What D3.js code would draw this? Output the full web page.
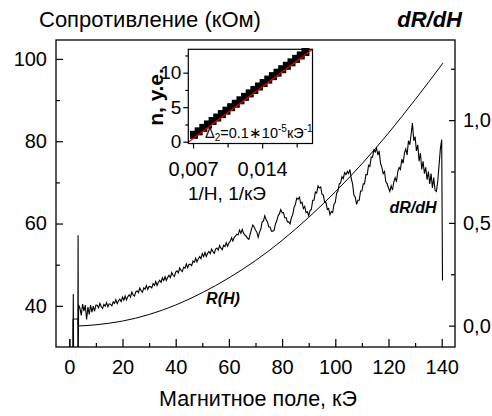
<!DOCTYPE html>
<html>
<head>
<meta charset="utf-8">
<script src="https://cdn.jsdelivr.net/npm/d3@7"></script>
<style>
  body { margin: 0; background: #fff; }
  svg text { font-family: "Liberation Sans", Arial, sans-serif; fill: #000; }
</style>
</head>
<body>
<svg id="chart" width="492" height="416"></svg>
<script>
// main plot ticks
var fieldTicks = [0, 20, 40, 60, 80, 100, 120, 140];
var fieldMinor = [10, 30, 50, 70, 90, 110, 130];
var resTicks = [40, 60, 80, 100];
var resMinor = [50, 70, 90];
var derivTicks = [0, 0.5, 1.0];
var derivMinor = [0.25, 0.75, 1.25];

// R(H): step at the start, then smooth part
var rHeadH = [1.4, 1.4, 3.3, 3.3];
var rHeadR = [29.0, 36.8, 36.8, 35.1];
var rFieldH = [3.3, 10, 20, 30, 40, 50, 60, 70, 80, 90, 100, 110, 120, 130, 140.5];
var rValues = [35.1, 35.4, 36.3, 37.9, 40.2, 43.2, 46.8, 51.0, 55.9, 61.5, 67.7, 74.5, 82.0, 90.1, 99.0];

// dR/dH: spikes before the sweep, then readings every 0.5 kOe from 3.5 kOe, then the drop
var dHeadH = [0.2, 0.3, 1.4, 1.5, 1.6, 3.2, 3.3, 3.4];
var dHeadV = [-0.065, -0.11, -0.11, 0.154, -0.11, -0.11, 0.44, -0.11];
var dStart = 3.5, dStep = 0.5;
var dValues = [
  0.10, 0.085, 0.05, 0.105, 0.07, 0.10, 0.03, 0.09, 0.055, 0.10, 0.065, 0.095, 0.07, 0.10,
  0.099, 0.0865, 0.108, 0.093, 0.084, 0.1035, 0.095, 0.112, 0.092, 0.106,
  0.104, 0.096, 0.116, 0.108, 0.126, 0.107, 0.121, 0.129, 0.117, 0.139,
  0.124, 0.144, 0.125, 0.141, 0.150, 0.139, 0.163, 0.150, 0.144, 0.165,
  0.170, 0.160, 0.183, 0.170, 0.163, 0.184, 0.177, 0.195, 0.176, 0.191,
  0.190, 0.183, 0.204, 0.196, 0.215, 0.196, 0.211, 0.221, 0.210, 0.233,
  0.219, 0.238, 0.220, 0.235, 0.245, 0.234, 0.258, 0.245, 0.239, 0.261,
  0.267, 0.257, 0.281, 0.269, 0.263, 0.285, 0.280, 0.300, 0.282, 0.298,
  0.298, 0.292, 0.314, 0.308, 0.328, 0.310, 0.326, 0.336, 0.326, 0.350,
  0.336, 0.356, 0.337, 0.352, 0.361, 0.350, 0.373, 0.360, 0.352, 0.373,
  0.378, 0.367, 0.390, 0.377, 0.370, 0.391, 0.385, 0.404, 0.386, 0.402,
  0.41, 0.428, 0.412, 0.43, 0.437, 0.445, 0.442, 0.465, 0.45, 0.468,
  0.45, 0.44, 0.435, 0.425, 0.42, 0.445, 0.47, 0.49, 0.48, 0.465,
  0.455, 0.43, 0.455, 0.47, 0.505, 0.51, 0.535, 0.515, 0.505, 0.48,
  0.48, 0.46, 0.46, 0.465, 0.495, 0.51, 0.535, 0.545, 0.565, 0.55,
  0.55, 0.525, 0.525, 0.505, 0.505, 0.495, 0.525, 0.54, 0.575, 0.59,
  0.62, 0.615, 0.625, 0.595, 0.60, 0.57, 0.58, 0.55, 0.555, 0.535,
  0.56, 0.565, 0.61, 0.61, 0.65, 0.645, 0.68, 0.67, 0.675, 0.64,
  0.635, 0.60, 0.60, 0.565, 0.57, 0.54, 0.555, 0.55, 0.59, 0.60,
  0.645, 0.655, 0.69, 0.695, 0.725, 0.715, 0.745, 0.735, 0.75, 0.74,
  0.76, 0.715, 0.69, 0.635, 0.625, 0.59, 0.61, 0.61, 0.655, 0.655,
  0.69, 0.69, 0.735, 0.735, 0.78, 0.775, 0.82, 0.82, 0.855, 0.845,
  0.864, 0.83, 0.85, 0.79, 0.77, 0.74, 0.75, 0.70, 0.69, 0.67,
  0.653, 0.68, 0.66, 0.70, 0.72, 0.70, 0.75, 0.77, 0.76, 0.81,
  0.79, 0.84, 0.86, 0.83, 0.90, 0.88, 0.93, 0.986, 0.90, 0.92,
  0.85, 0.88, 0.80, 0.84, 0.76, 0.80, 0.74, 0.77, 0.71, 0.75,
  0.69, 0.74, 0.67, 0.72, 0.66, 0.653, 0.70, 0.78, 0.86, 0.905
];
var dTailH = [140.3];
var dTailV = [0.22];

// inset: n vs 1/H
var invH = [0.00710, 0.00757, 0.00804, 0.00851, 0.00898, 0.00945, 0.00992, 0.01039, 0.01086,
  0.01133, 0.01180, 0.01227, 0.01274, 0.01321, 0.01368, 0.01415, 0.01462, 0.01509, 0.01556,
  0.01603, 0.01650, 0.01697, 0.01744, 0.01791, 0.01838];
var nVal = [1, 1.5, 2, 2.5, 3, 3.5, 4, 4.5, 5, 5.5, 6, 6.5, 7, 7.5, 8, 8.5, 9, 9.5, 10,
  10.5, 11, 11.5, 12, 12.5, 13];
var fitInvH = [0.00658, 0.0191];
var fitN = [0.0, 13.39];
var invTicks = [0.007, 0.014];
var invMinor = [0.0105, 0.0175];
var nTicks = [0, 5, 10];
var nMinor = [2.5, 7.5, 12.5];

var ru = d3.formatLocale({decimal: ",", thousands: " ", grouping: [3], currency: ["", ""]});

var svg = d3.select("#chart");

var x = d3.scaleLinear().domain([-5, 145]).range([56, 455]);
var yL = d3.scaleLinear().domain([30, 104.6]).range([347, 40]);
var yR = d3.scaleLinear().domain([-0.104, 1.39]).range([347, 40]);

function styleAxis(g, size) {
  g.select(".domain").remove();
  g.selectAll("line").attr("stroke", "#000").attr("stroke-width", 1.2);
  g.selectAll("text").attr("font-size", size).attr("font-family", "Liberation Sans, Arial, sans-serif");
  g.attr("font-size", null).attr("font-family", null);
}

svg.append("defs").append("clipPath").attr("id", "plotClip")
  .append("rect").attr("x", 56).attr("y", 40).attr("width", 399).attr("height", 307);

// axes
svg.append("g").attr("transform", "translate(0,347)")
  .call(d3.axisBottom(x).tickValues(fieldTicks).tickSize(-8).tickPadding(13).tickFormat(d3.format("d")))
  .call(styleAxis, 20);
svg.append("g").attr("transform", "translate(0,347)")
  .call(d3.axisBottom(x).tickValues(fieldMinor).tickSize(-4).tickFormat(""))
  .call(styleAxis, 20);

svg.append("g").attr("transform", "translate(56,0)")
  .call(d3.axisLeft(yL).tickValues(resTicks).tickSize(-7).tickPadding(9).tickFormat(d3.format("d")))
  .call(styleAxis, 20);
svg.append("g").attr("transform", "translate(56,0)")
  .call(d3.axisLeft(yL).tickValues(resMinor).tickSize(-4).tickFormat(""))
  .call(styleAxis, 20);

svg.append("g").attr("transform", "translate(455,0)")
  .call(d3.axisRight(yR).tickValues(derivTicks).tickSize(-6).tickPadding(8).tickFormat(ru.format(".1f")))
  .call(styleAxis, 20);
svg.append("g").attr("transform", "translate(455,0)")
  .call(d3.axisRight(yR).tickValues(derivMinor).tickSize(-4).tickFormat(""))
  .call(styleAxis, 20);

svg.append("rect").attr("x", 56).attr("y", 40).attr("width", 399).attr("height", 307)
  .attr("fill", "none").attr("stroke", "#000").attr("stroke-width", 1.3);

// curves
var plot = svg.append("g").attr("clip-path", "url(#plotClip)");

var lineR = d3.line().x(function(d) { return x(d[0]); }).y(function(d) { return yL(d[1]); });
plot.append("path")
  .datum(rHeadH.map(function(h, i) { return [h, rHeadR[i]]; }))
  .attr("d", lineR).attr("fill", "none").attr("stroke", "#000").attr("stroke-width", 1);
plot.append("path")
  .datum(rFieldH.map(function(h, i) { return [h, rValues[i]]; }))
  .attr("d", lineR.curve(d3.curveMonotoneX)).attr("fill", "none").attr("stroke", "#000").attr("stroke-width", 1);

var dPts = dHeadH.map(function(h, i) { return [h, dHeadV[i]]; })
  .concat(dValues.map(function(v, i) { return [dStart + i * dStep, v]; }))
  .concat(dTailH.map(function(h, i) { return [h, dTailV[i]]; }));
var lineD = d3.line().x(function(d) { return x(d[0]); }).y(function(d) { return yR(d[1]); });
plot.append("path").datum(dPts).attr("d", lineD)
  .attr("fill", "none").attr("stroke", "#000").attr("stroke-width", 1.1);

// labels
svg.append("text").attr("x", 39).attr("y", 27).attr("font-size", 22).text("Сопротивление (кОм)");
svg.append("text").attr("x", 462).attr("y", 27).attr("text-anchor", "end").attr("font-size", 22)
  .attr("font-weight", "bold").attr("font-style", "italic").text("dR/dH");
svg.append("text").attr("x", 258).attr("y", 406).attr("text-anchor", "middle").attr("font-size", 21.5)
  .text("Магнитное поле, кЭ");
svg.append("text").attr("x", 223).attr("y", 304).attr("text-anchor", "middle").attr("font-size", 16)
  .attr("font-weight", "bold").attr("font-style", "italic").text("R(H)");
svg.append("text").attr("x", 413).attr("y", 213).attr("text-anchor", "middle").attr("font-size", 16)
  .attr("font-weight", "bold").attr("font-style", "italic").text("dR/dH");

// inset
var ix = d3.scaleLinear().domain([0.00652, 0.0191]).range([188.3, 312.5]);
var iy = d3.scaleLinear().domain([-0.26, 13.39]).range([143.5, 49.3]);

svg.append("rect").attr("x", 188.3).attr("y", 49.3).attr("width", 124.2).attr("height", 94.2)
  .attr("fill", "#fff");

svg.append("g").attr("transform", "translate(0,143.5)")
  .call(d3.axisBottom(ix).tickValues(invTicks).tickSize(5).tickPadding(13).tickFormat(ru.format(".3f")))
  .call(styleAxis, 20);
svg.append("g").attr("transform", "translate(0,143.5)")
  .call(d3.axisBottom(ix).tickValues(invMinor).tickSize(4).tickFormat(""))
  .call(styleAxis, 20);
svg.append("g").attr("transform", "translate(188.3,0)")
  .call(d3.axisLeft(iy).tickValues(nTicks).tickSize(5).tickPadding(2).tickFormat(d3.format("d")))
  .call(styleAxis, 19);
svg.append("g").attr("transform", "translate(188.3,0)")
  .call(d3.axisLeft(iy).tickValues(nMinor).tickSize(3).tickFormat(""))
  .call(styleAxis, 19);

svg.append("g").selectAll("rect").data(invH).enter().append("rect")
  .attr("x", function(d) { return ix(d) - 4; })
  .attr("y", function(d, i) { return iy(nVal[i]) - 4; })
  .attr("width", 8).attr("height", 8).attr("fill", "#000");

svg.append("line")
  .attr("x1", ix(fitInvH[0])).attr("y1", iy(fitN[0]))
  .attr("x2", ix(fitInvH[1])).attr("y2", iy(fitN[1]))
  .attr("stroke", "#ee0000").attr("stroke-width", 1.2);

svg.append("rect").attr("x", 188.3).attr("y", 49.3).attr("width", 124.2).attr("height", 94.2)
  .attr("fill", "none").attr("stroke", "#000").attr("stroke-width", 1.2);

var delta = svg.append("text").attr("x", 205).attr("y", 138).attr("font-size", 14.5);
delta.append("tspan").text("Δ");
delta.append("tspan").attr("font-size", 10).attr("dy", 3).text("2");
delta.append("tspan").attr("dy", -3).text("=0.1∗10");
delta.append("tspan").attr("font-size", 10).attr("dy", -6).text("-5");
delta.append("tspan").attr("dy", 6).text("кЭ");
delta.append("tspan").attr("font-size", 10).attr("dy", -6).text("-1");

svg.append("text").attr("transform", "translate(163,97) rotate(-90)").attr("text-anchor", "middle")
  .attr("font-size", 21).attr("font-weight", "bold").text("n, у.е.");
svg.append("text").attr("x", 227).attr("y", 200).attr("text-anchor", "middle").attr("font-size", 19)
  .text("1/H, 1/кЭ");
</script>
</body>
</html>
